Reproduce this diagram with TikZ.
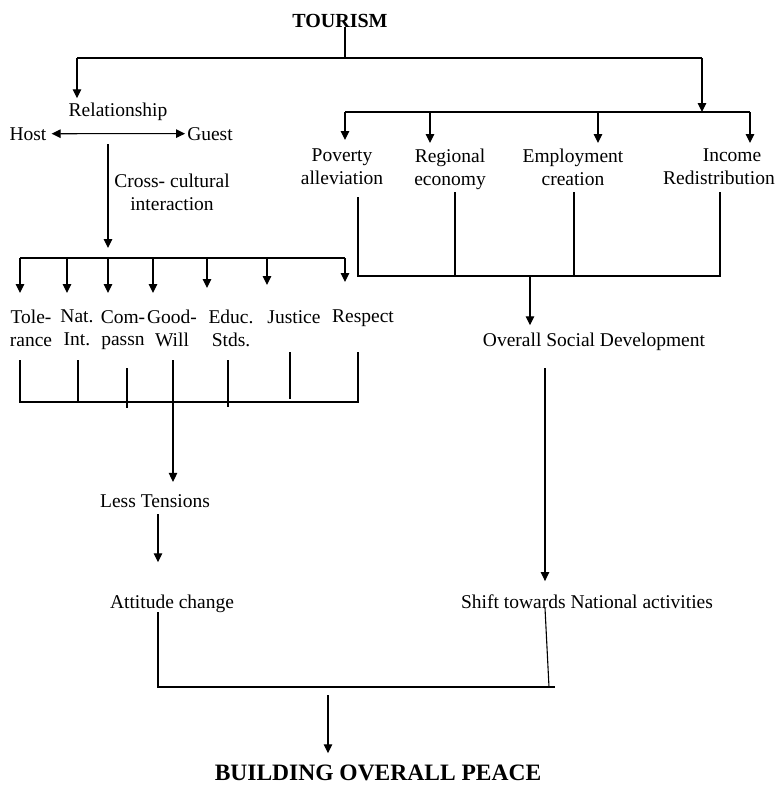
\documentclass[tikz,border=0pt]{standalone}
\usepackage{fontspec}
\setmainfont{Liberation Serif}
\usetikzlibrary{arrows.meta}
\begin{document}
\begin{tikzpicture}[x=1pt,y=-1pt,
  lbl/.style={inner sep=0pt,font=\fontsize{19.5}{22.5}\selectfont,align=center},
  ttl/.style={inner sep=0pt,font=\fontsize{20}{24}\selectfont\bfseries},
  ln/.style={line width=1.1pt},
  arr/.style={line width=1.1pt,-{Triangle[length=9pt,width=8.5pt]}},
  darr/.style={line width=1.1pt,{Triangle[length=9pt,width=8.5pt]}-{Triangle[length=9pt,width=8.5pt]}}]
\useasboundingbox[fill=white] (0,0) rectangle (780,785);

% ---------- nodes
\node[ttl,anchor=base] (tour) at (340,27) {TOURISM};
\node[lbl,anchor=base] (rel) at (118,116) {Relationship};
\node[lbl,anchor=base] (host) at (28,140) {Host};
\node[lbl,anchor=base] (guest) at (210,140) {Guest};
\node[lbl,anchor=north] (cross) at (172,174) {Cross- cultural\\interaction};
\node[lbl,anchor=north] (pov) at (342,149) {Poverty\\alleviation};
\node[lbl,anchor=north] (reg) at (450,149) {Regional\\economy};
\node[lbl,anchor=north] (emp) at (573,149) {Employment\\creation};
\node[lbl,anchor=north] (inc) at (719,149) {\hspace*{26pt}Income\\Redistribution};
\node[lbl,anchor=north] (tol) at (31,310) {Tole-\\rance};
\node[lbl,anchor=north] (nat) at (77,310) {Nat.\\Int.};
\node[lbl,anchor=north] (com) at (123,310) {Com-\\passn};
\node[lbl,anchor=north] (good) at (172,310) {Good-\\Will};
\node[lbl,anchor=north] (educ) at (231,310) {Educ.\\Stds.};
\node[lbl,anchor=north] (just) at (294,310) {Justice};
\node[lbl,anchor=north] (resp) at (363,310) {Respect};
\node[lbl,anchor=base] (osd) at (594,346) {Overall Social Development};
\node[lbl,anchor=base] (less) at (155,507) {Less Tensions};
\node[lbl,anchor=base] (att) at (172,608) {Attitude change};
\node[lbl,anchor=base] (shift) at (587,608) {Shift towards National activities};
\node[ttl,font=\fontsize{23.5}{28}\selectfont\bfseries,anchor=base] (peace) at (378,780) {BUILDING OVERALL PEACE};

% ---------- top distribution
\coordinate (tj) at (345,58);
\coordinate (tl) at (77,58);
\coordinate (tr) at (702,58);
\draw[ln] (tour.south -| tj) -- (tj);
\draw[ln] (tl) -- (tr);
\draw[arr,shorten >=4pt] (tl) -- (rel.north -| tl);
\coordinate (br) at (702,112);
\draw[arr] (tr) -- (br);

% ---------- economic bus
\coordinate (e1) at (345,112);
\coordinate (e2) at (430,112);
\coordinate (e3) at (598,112);
\coordinate (e4) at (750,112);
\draw[ln] (e1) -- (e4);
\draw[arr,shorten >=9pt] (e1) -- (pov.north -| e1);
\draw[arr,shorten >=6pt] (e2) -- (reg.north -| e2);
\draw[arr,shorten >=6pt] (e3) -- (emp.north -| e3);
\draw[arr,shorten >=6pt] (e4) -- (inc.north -| e4);

% ---------- host / guest
\draw[darr,shorten <=5pt,shorten >=2pt] (host.east) -- (guest.west);
\coordinate (c0) at (108,144);
\coordinate (v3) at (108,258);
\draw[arr,shorten >=10pt] (c0) -- (v3);

% ---------- values bus
\coordinate (v1) at (20,258);
\coordinate (v2) at (67,258);
\coordinate (v4) at (153,258);
\coordinate (v5) at (207,258);
\coordinate (v6) at (267,258);
\coordinate (v7) at (345,258);
\draw[ln] (v1) -- (v7);
\draw[arr,shorten >=17pt] (v1) -- (tol.north -| v1);
\draw[arr,shorten >=17pt] (v2) -- (nat.north -| v2);
\draw[arr,shorten >=17pt] (v3) -- (com.north -| v3);
\draw[arr,shorten >=17pt] (v4) -- (good.north -| v4);
\draw[arr,shorten >=22pt] (v5) -- (educ.north -| v5);
\draw[arr,shorten >=25pt] (v6) -- (just.north -| v6);
\draw[arr,shorten >=28pt] (v7) -- (resp.north -| v7);

% ---------- values bracket
\coordinate (w1) at (20,402);
\coordinate (w2) at (78,402);
\coordinate (w3) at (127,402);
\coordinate (w4) at (173,402);
\coordinate (w5) at (228,402);
\coordinate (w6) at (290,402);
\coordinate (w7) at (358,402);
\draw[ln] (20,360) -- (w1) -- (w7) -- (358,352);
\draw[ln] (78,360) -- (w2);
\draw[ln] (127,368) -- (127,408);
\draw[ln] (173,360) -- (w4);
\draw[ln] (228,360) -- (228,407);
\draw[ln] (290,352) -- (290,399);
\draw[arr,shorten >=12pt] (w4) -- (less.north -| w4);
\draw[arr,shorten <=7pt,shorten >=32pt] (less.south -| 158,0) -- (att.north -| 158,0);

% ---------- economic bracket
\coordinate (r1) at (358,276);
\coordinate (r2) at (455,276);
\coordinate (r3) at (574,276);
\coordinate (r4) at (720,276);
\coordinate (rm) at (530,276);
\draw[ln] (358,197) -- (r1) -- (r4) -- (720,192);
\draw[ln] (455,192) -- (r2);
\draw[ln] (574,192) -- (r3);
\draw[arr,shorten >=7pt] (rm) -- (osd.north -| rm);
\coordinate (sx) at (545,0);
\draw[arr,shorten <=18pt,shorten >=13pt] (osd.south -| sx) -- (shift.north -| sx);

% ---------- final bracket
\coordinate (f1) at (158,687);
\coordinate (f2) at (555,687);
\coordinate (fm) at (328,695);
\draw[ln] (att.south -| f1) -- (f1) -- (f2);
\draw[ln] (shift.base -| sx) -- (549,687);
\draw[arr,shorten >=11pt] (fm) -- (peace.north -| fm);
\end{tikzpicture}
\end{document}
